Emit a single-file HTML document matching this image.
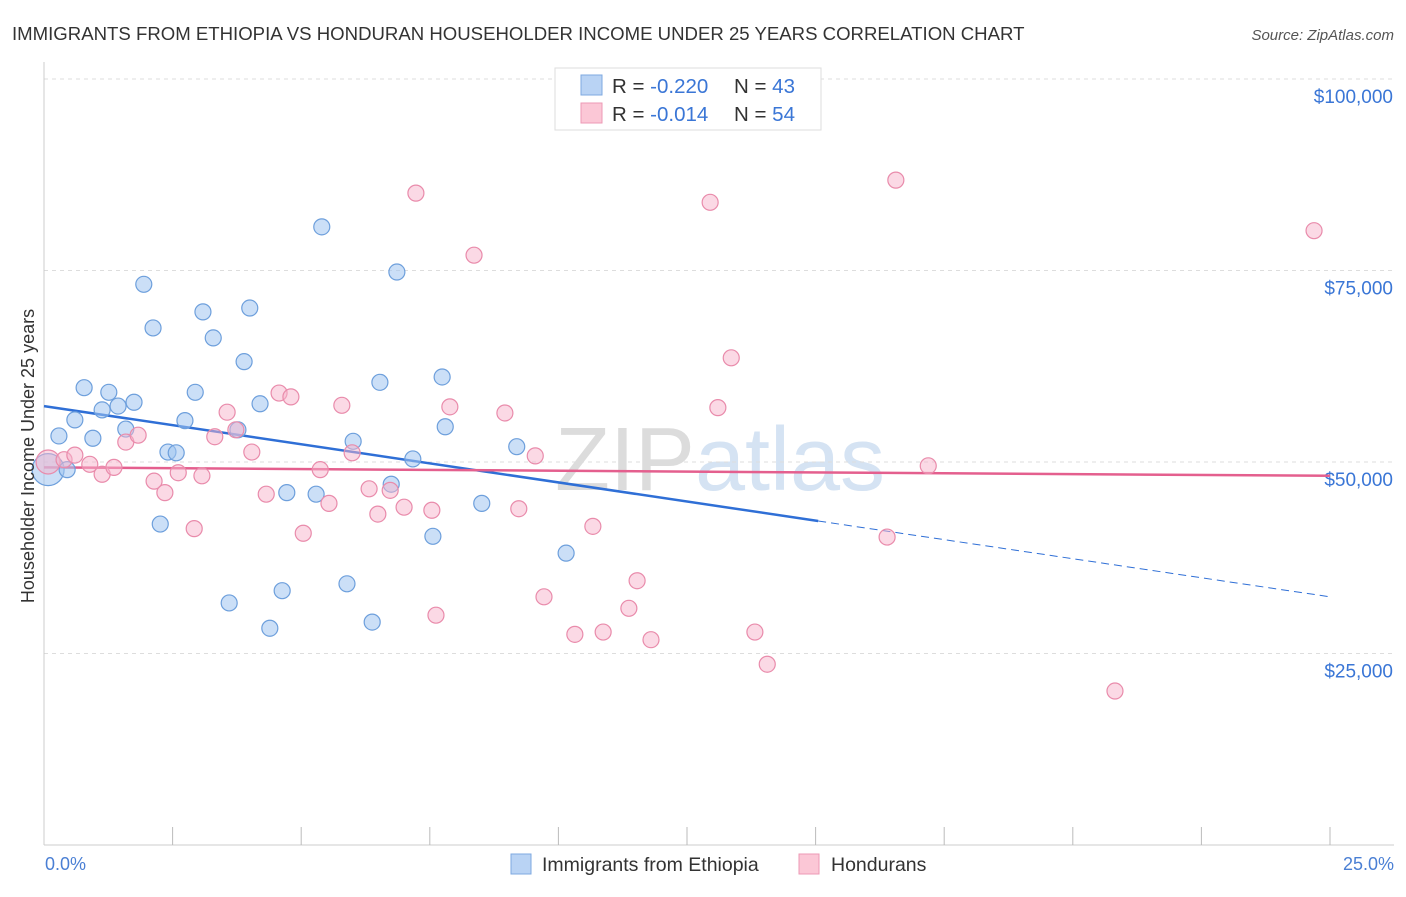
<!DOCTYPE html>
<html><head><meta charset="utf-8"><style>
body{margin:0;background:#fff;font-family:"Liberation Sans",sans-serif;}
svg text{font-family:"Liberation Sans",sans-serif;}
</style></head><body>
<svg id="chart" width="1406" height="892" xmlns="http://www.w3.org/2000/svg">
<text x="12" y="40" font-size="18.6" fill="#333">IMMIGRANTS FROM ETHIOPIA VS HONDURAN HOUSEHOLDER INCOME UNDER 25 YEARS CORRELATION CHART</text>
<text x="1394" y="40" font-size="15" fill="#555" font-style="italic" text-anchor="end">Source: ZipAtlas.com</text>
<text x="720" y="490" font-size="90" fill="#e4e4e4" text-anchor="middle" font-family="Liberation Serif"><tspan fill="#dcdcdc">ZIP</tspan><tspan fill="#d5e3f3" font-family="Liberation Sans">atlas</tspan></text>
<g id="grid"></g>
<g id="axes"></g>
<g id="trend"></g>
<g id="pts"></g>
<text transform="translate(34,456) rotate(-90)" font-size="18" fill="#333" text-anchor="middle">Householder Income Under 25 years</text>
<text x="45" y="870" font-size="18" fill="#4a7fd4">0.0%</text>
<text x="1394" y="870" font-size="18" fill="#4a7fd4" text-anchor="end">25.0%</text>
<g>
<rect x="555" y="68" width="266" height="62" fill="#fff" stroke="#ddd"/>
<rect x="581" y="75" width="21" height="20" fill="#b9d3f4" stroke="#7ea8e0"/>
<rect x="581" y="103" width="21" height="20" fill="#fbc7d6" stroke="#ec9ab5"/>
<text x="612" y="93" font-size="20.5" fill="#333">R = <tspan fill="#3a76d6">-0.220</tspan><tspan x="734">N = </tspan><tspan fill="#3a76d6">43</tspan></text>
<text x="612" y="121" font-size="20.5" fill="#333">R = <tspan fill="#3a76d6"> -0.014</tspan><tspan x="734">N = </tspan><tspan fill="#3a76d6">54</tspan></text>
</g>
<g>
<rect x="511" y="854" width="20" height="20" fill="#b9d3f4" stroke="#7ea8e0"/>
<text x="542" y="871" font-size="19.5" fill="#333">Immigrants from Ethiopia</text>
<rect x="799" y="854" width="20" height="20" fill="#fbc7d6" stroke="#ec9ab5"/>
<text x="831" y="871" font-size="19.5" fill="#333">Hondurans</text>
</g>
</svg>
<script>
const yTicks=[25000,50000,75000,100000];
const yTickLabels=["$25,000","$50,000","$75,000","$100,000"];
const blueX=[0.08,0.29,0.45,0.60,0.78,0.95,1.13,1.26,1.44,1.59,1.75,1.94,2.12,2.26,2.41,2.57,2.74,2.94,3.09,3.29,3.60,3.77,3.89,4.00,4.20,4.39,4.63,4.72,5.29,5.40,5.89,6.01,6.38,6.53,6.75,6.86,7.17,7.56,7.74,7.80,8.51,9.19,10.15];
const blueY=[49000,53400,49000,55500,59700,53100,56800,59100,57300,54300,57800,73200,67500,41900,51300,51200,55400,59100,69600,66200,31600,54200,63100,70100,57600,28300,33200,46000,45800,80700,34100,52700,29100,60400,47100,74800,50400,40300,61100,54600,44600,52000,38100];
const pinkX=[0.08,0.39,0.60,0.89,1.13,1.36,1.59,1.83,2.14,2.35,2.61,2.92,3.07,3.32,3.56,3.73,4.04,4.32,4.57,4.80,5.04,5.37,5.54,5.79,5.99,6.32,6.49,6.73,7.00,7.23,7.54,7.62,7.89,8.36,8.96,9.23,9.55,9.72,10.32,10.67,10.87,11.37,11.53,11.80,12.95,13.10,13.36,13.82,14.06,16.39,16.56,17.19,20.82,24.69];
const pinkY=[50000,50300,50900,49700,48400,49300,52600,53500,47500,46000,48600,41300,48200,53300,56500,54200,51300,45800,59000,58500,40700,49000,44600,57400,51200,46500,43200,46300,44100,85100,43700,30000,57200,77000,56400,43900,50800,32400,27500,41600,27800,30900,34500,26800,83900,57100,63600,27800,23600,40200,86800,49500,20100,80200];
const blueTrend=[57300,42300,32400];
const blueTrendX=[0,15.05,25];
const pinkTrend=[49300,48200];
const pinkTrendX=[0,25];
const NS="http://www.w3.org/2000/svg";
const X0=44,X1=1330,Y0=845,PXPER=191.5/25000;
function sx(v){return X0+v/25*(X1-X0);}
function sy(v){return Y0-v*PXPER;}
function mk(tag,attrs,parent){const e=document.createElementNS(NS,tag);for(const k in attrs)e.setAttribute(k,attrs[k]);document.getElementById(parent).appendChild(e);return e;}
mk('line',{x1:X0,y1:sy(100000)-17,x2:X0,y2:Y0,stroke:'#ccc'},'axes');
mk('line',{x1:X0,y1:Y0,x2:1394,y2:Y0,stroke:'#ccc'},'axes');
for(let i=1;i<=10;i++){const l=mk('line',{x1:sx(i*2.5),y1:Y0-18,x2:sx(i*2.5),y2:Y0,stroke:'#bbb'},'axes');

}
yTicks.forEach((t,i)=>{const g=mk('line',{x1:X0,y1:sy(t),x2:1394,y2:sy(t),stroke:'#ddd','stroke-dasharray':'4,4'},'grid');


const tx=mk('text',{x:1393,y:sy(t)+24,'font-size':19,fill:'#3a76d6','text-anchor':'end'},'grid');
tx.textContent=yTickLabels[i];

});
let bl=mk('line',{x1:sx(blueTrendX[0]),y1:sy(blueTrend[0]),x2:sx(blueTrendX[1]),y2:sy(blueTrend[1]),stroke:'#2f6fd6','stroke-width':2.5},'trend');


let bd=mk('line',{x1:sx(blueTrendX[1]),y1:sy(blueTrend[1]),x2:sx(blueTrendX[2]),y2:sy(blueTrend[2]),stroke:'#2f6fd6','stroke-width':1,'stroke-dasharray':'8,5'},'trend');


let pl=mk('line',{x1:sx(pinkTrendX[0]),y1:sy(pinkTrend[0]),x2:sx(pinkTrendX[1]),y2:sy(pinkTrend[1]),stroke:'#e45f8e','stroke-width':2.5},'trend');


blueX.forEach((x,i)=>{const c=mk('circle',{cx:sx(x),cy:sy(blueY[i]),r:i===0?16:8,fill:'rgba(160,196,240,0.55)',stroke:'#6d9fdc','stroke-width':1.2},'pts');

});
pinkX.forEach((x,i)=>{const c=mk('circle',{cx:sx(x),cy:sy(pinkY[i]),r:i===0?12:8,fill:'rgba(248,180,203,0.5)',stroke:'#e98bab','stroke-width':1.2},'pts');

});
</script>
</body></html>
